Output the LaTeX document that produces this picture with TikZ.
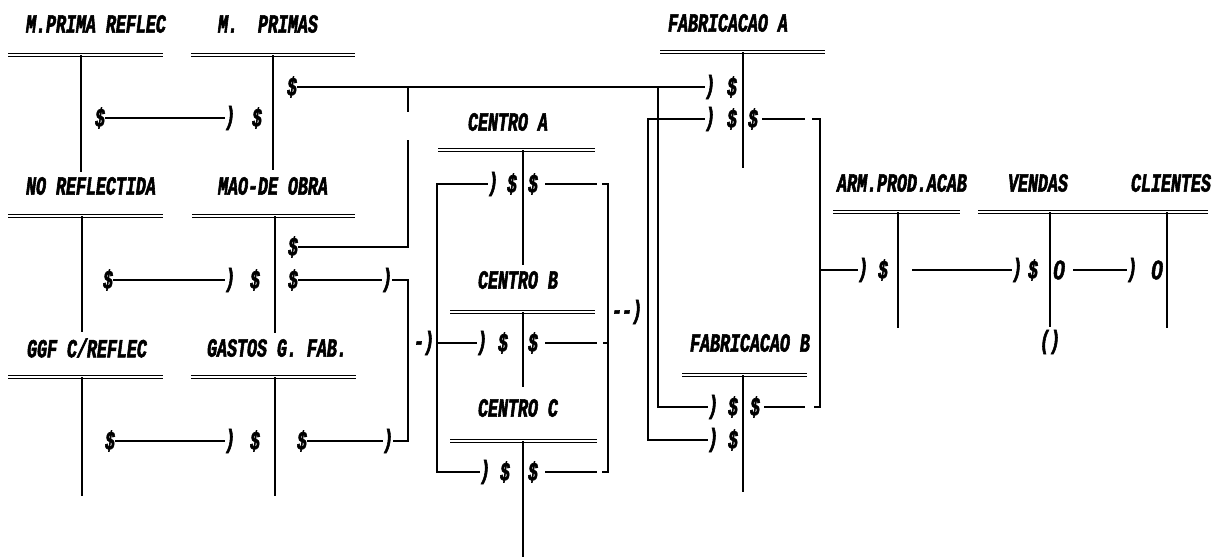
\documentclass[tikz,border=0pt]{standalone}
\usepackage{fontspec}
\newfontfamily\pf{Liberation Mono}[FakeStretch=0.64,FakeBold=2.2]
\newfontfamily\zf{Liberation Sans}[FakeBold=1.5,FakeStretch=0.8]
\begin{document}
\begin{tikzpicture}[x=1pt,y=-1pt,
  ttl/.style={font=\pf\bfseries\itshape\fontsize{26}{28}\selectfont, inner sep=0pt},
  g/.style={font=\pf\bfseries\itshape\fontsize{26}{28}\selectfont, inner sep=0pt},
  nought/.style={font=\zf\bfseries\itshape\fontsize{27}{30}\selectfont, inner sep=0pt},
  bar/.style={line width=1.6pt, double distance=1.4pt, double=white},
  stem/.style={line width=1.9pt},
  cn/.style={line width=1.9pt}]
\useasboundingbox (0,0) rectangle (1219,558);
% ---------- accounts ----------
\node[ttl] (tMPR) at (96,24) {M.PRIMA REFLEC};
\draw[bar] (8,55) -- (163,55); \draw[stem] (81,55) -- (81,172);
\node[ttl] (tMP) at (268,24) {M.~~PRIMAS};
\draw[bar] (191,55) -- (355,55); \draw[stem] (273,55) -- (273,170);
\node[ttl] (tNR) at (91,186) {NO REFLECTIDA};
\draw[bar] (8,216) -- (163,216); \draw[stem] (82,216) -- (82,332);
\node[ttl] (tMO) at (273,186) {MAO-DE OBRA};
\draw[bar] (192,216) -- (355,216); \draw[stem] (275,216) -- (275,333);
\node[ttl] (tGR) at (87,348) {GGF C/REFLEC};
\draw[bar] (8,377) -- (163,377); \draw[stem] (82,377) -- (82,496);
\node[ttl] (tGF) at (277,348) {GASTOS G. FAB.};
\draw[bar] (191,377) -- (356,377); \draw[stem] (275,377) -- (275,496);
\node[ttl] (tCA) at (508,122) {CENTRO A};
\draw[bar] (438,150) -- (595,150); \draw[stem] (523,150) -- (523,265);
\node[ttl] (tCB) at (518,280) {CENTRO B};
\draw[bar] (450,312) -- (595,312); \draw[stem] (523,312) -- (523,387);
\node[ttl] (tCC) at (518,408) {CENTRO C};
\draw[bar] (450,441) -- (597,441); \draw[stem] (523,441) -- (523,557);
\node[ttl] (tFA) at (728,23) {FABRICACAO A};
\draw[bar] (660,52) -- (825,52); \draw[stem] (743,52) -- (743,168);
\node[ttl] (tFB) at (750,343) {FABRICACAO B};
\draw[bar] (682,375) -- (807,375); \draw[stem] (743,375) -- (743,492);
\node[ttl] (tAR) at (902,183) {ARM.PROD.ACAB};
\draw[bar] (833,212) -- (960,212); \draw[stem] (898,212) -- (898,328);
\node[ttl] (tVE) at (1038,183) {VENDAS};
\node[ttl] (tCL) at (1171,183) {CLIENTES};
\draw[bar] (978,212) -- (1208,212);
\draw[stem] (1050,212) -- (1050,327); \draw[stem] (1167,212) -- (1167,328);
\node[g] (par) at (1050,342) {()};
% ---------- M.PRIMA REFLEC -> M. PRIMAS ----------
\node[g] (s1) at (100,118) {\$};
\node[g] (h1) at (230,118) {)};
\node[g] (d1) at (257,118) {\$};
\draw[cn] (s1.east) -- (h1.west);
% ---------- M. PRIMAS -> FABRICACAO A / B ----------
\node[g] (s2) at (292,87) {\$};
\node[g] (h2) at (710,87) {)};
\node[g] (d2) at (732,87) {\$};
\draw[cn] (s2.east) -- (h2.west);
\coordinate (j2) at (658,87);
\node[g] (h3) at (713,407) {)};
\node[g] (d3) at (733,407) {\$};
\draw[cn] (j2) |- (h3.west);
\coordinate (k1) at (408,87); \coordinate (k2) at (408,112);
\draw[cn] (k1) -- (k2);
% ---------- MAO-DE OBRA -> up ----------
\node[g] (s4) at (293,247) {\$};
\coordinate (k3) at (408,140);
\draw[cn] (s4.east) -| (k3);
% ---------- NO REFLECTIDA -> MAO-DE OBRA ----------
\node[g] (s5) at (108,280) {\$};
\node[g] (h5) at (230,280) {)};
\node[g] (d5) at (255,280) {\$};
\draw[cn] (s5.east) -- (h5.west);
\node[g] (s6) at (293,280) {\$};
\node[g] (h6) at (387,280) {)};
\draw[cn] (s6.east) -- (h6.west);
% ---------- GGF C/REFLEC -> GASTOS G. FAB. ----------
\node[g] (s7) at (110,441) {\$};
\node[g] (h7) at (230,441) {)};
\node[g] (d7) at (255,441) {\$};
\draw[cn] (s7.east) -- (h7.west);
\node[g] (s8) at (302,441) {\$};
\node[g] (h8) at (388,441) {)};
\draw[cn] (s8.east) -- (h8.west);
\coordinate (b1) at (408,280); \coordinate (b2) at (408,441);
\draw[cn] (h6.east) -- (b1) -- (b2) -- (h8.east);
\node[g] (m1) at (424,343) {-)};
% ---------- centros: entries ----------
\coordinate (L1) at (437,184); \coordinate (L2) at (437,343); \coordinate (L3) at (437,472);
\node[g] (hCA) at (493,184) {)}; \node[g] (dCA) at (512,184) {\$};
\node[g] (hCB) at (482,343) {)}; \node[g] (dCB) at (503,343) {\$};
\node[g] (hCC) at (485,472) {)}; \node[g] (dCC) at (505,472) {\$};
\draw[cn] (hCA.west) -- (L1) -- (L3) -- (hCC.west);
\draw[cn] (L2) -- (hCB.west);
% ---------- centros: exits ----------
\node[g] (cA) at (533,184) {\$};
\node[g] (cB) at (533,343) {\$};
\node[g] (cC) at (533,472) {\$};
\coordinate (e1) at (597,184); \coordinate (e2) at (597,343); \coordinate (e3) at (597,472);
\draw[cn, shorten <=7pt] (cA.east) -- (e1);
\draw[cn, shorten <=7pt] (cB.east) -- (e2);
\draw[cn, shorten <=7pt] (cC.east) -- (e3);
\coordinate (q1) at (602,184); \coordinate (r1) at (608,184);
\coordinate (q2) at (603,343); \coordinate (r2) at (608,343);
\coordinate (q3) at (602,472); \coordinate (r3) at (608,472);
\draw[cn] (q1) -- (r1) -- (r3) -- (q3);
\draw[cn] (q2) -- (r2);
\node[g] (m2) at (627,312) {-{}-)};
% ---------- into FABRICACAO A / B ----------
\coordinate (f1) at (648,119); \coordinate (f2) at (648,440);
\node[g] (hF1) at (710,119) {)}; \node[g] (dF1) at (732,119) {\$};
\node[g] (hF2) at (713,440) {)}; \node[g] (dF2) at (733,440) {\$};
\draw[cn] (hF1.west) -- (f1) -- (f2) -- (hF2.west);
% ---------- out of FABRICACAO A / B ----------
\node[g] (cF1) at (753,119) {\$};
\node[g] (cF2) at (755,407) {\$};
\coordinate (g1) at (805,119); \coordinate (g2) at (805,407);
\draw[cn, shorten <=4pt] (cF1.east) -- (g1);
\draw[cn, shorten <=4pt] (cF2.east) -- (g2);
\coordinate (p1) at (812,119); \coordinate (u1) at (820,119);
\coordinate (p2) at (814,407); \coordinate (u2) at (820,407);
\draw[cn] (p1) -- (u1) -- (u2) -- (p2);
\coordinate (o1) at (820,270);
\node[g] (hAR) at (863,270) {)}; \node[g] (dAR) at (883,270) {\$};
\draw[cn] (o1) -- (hAR.west);
% ---------- ARM -> VENDAS -> CLIENTES ----------
\coordinate (a0) at (912,270);
\node[g] (hV) at (1017,270) {)}; \node[g] (dV) at (1033,270) {\$};
\node[nought] (zV) at (1059,270) {0};
\node[g] (hCL) at (1132,270) {)}; \node[nought] (zCL) at (1157,270) {0};
\draw[cn] (a0) -- (hV.west);
\draw[cn, shorten <=8pt] (zV.east) -- (hCL.west);
\end{tikzpicture}
\end{document}
